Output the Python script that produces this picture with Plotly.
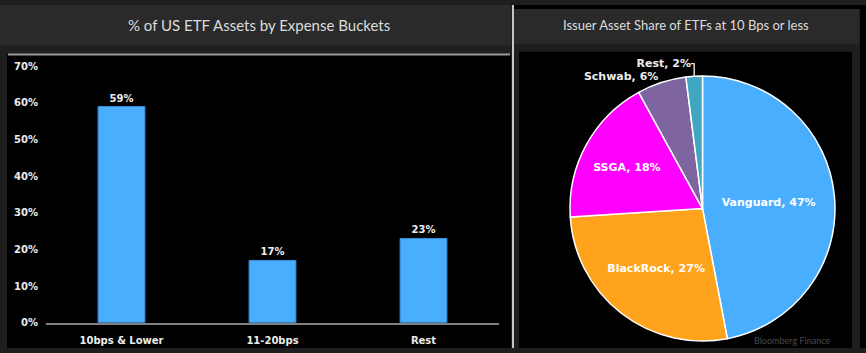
import plotly.graph_objects as go

# ---------------- data ----------------
categories = ["10bps & Lower", "11-20bps", "Rest"]
bucket_pct = [59, 17, 23]
y_tick_vals = [0, 10, 20, 30, 40, 50, 60, 70]
y_tick_text = ["0%", "10%", "20%", "30%", "40%", "50%", "60%", "70%"]

issuers = ["Vanguard", "BlackRock", "SSGA", "Schwab", "Rest"]
issuer_share = [47, 27, 18, 6, 2]
issuer_colors = ["#4aaeff", "#ffa31c", "#ff00ff", "#7e65a0", "#40a6c2"]
issuer_textpos = ["inside", "inside", "inside", "outside", "outside"]

left_title = "% of US ETF Assets by Expense Buckets"
right_title = "Issuer Asset Share of ETFs at 10 Bps or less"

# ---------------- geometry helpers ----------------
W, H = 866, 353


def px(x):
    return x / W


def py(y):
    return 1 - y / H


BOLD = "DejaVu Sans"
TXT = "#ececec"

fig = go.Figure()

fig.add_trace(go.Bar(
    x=categories, y=bucket_pct,
    marker=dict(color="#4aaeff", line=dict(color="#3a8ddb", width=1)),
    texttemplate="%{y}%", textposition="outside",
    textfont=dict(family=BOLD, size=10, color=TXT, weight="bold"),
    cliponaxis=False, showlegend=False, hoverinfo="skip",
))

fig.add_trace(go.Pie(
    labels=issuers, values=issuer_share, sort=False, direction="clockwise",
    rotation=0,
    marker=dict(colors=issuer_colors, line=dict(color="#ffffff", width=1.5)),
    texttemplate="%{label}, %{percent:.0%}",
    textposition=issuer_textpos,
    insidetextorientation="horizontal",
    insidetextfont=dict(family=BOLD, size=11, color="#ffffff", weight="bold"),
    outsidetextfont=dict(family=BOLD, size=11, color=TXT, weight="bold"),
    domain=dict(x=[px(570), px(835)], y=[py(346), py(73)]),
    showlegend=False, hoverinfo="skip",
))


def rect(x0, x1, y0, y1, color):
    return dict(type="rect", xref="paper", yref="paper",
                x0=px(x0), x1=px(x1), y0=py(y1), y1=py(y0),
                fillcolor=color, line_width=0, layer="below")


shapes = [
    rect(0, 511, 0, 42, "#2a2a2a"),          # left title bar
    rect(7, 511, 51, 353, "#000000"),        # left black plot area
    dict(type="line", xref="paper", yref="paper",
         x0=px(8), x1=px(510), y0=py(51), y1=py(51),
         line=dict(color="#9a9a9a", width=2), layer="below"),
    dict(type="line", xref="paper", yref="paper",
         x0=px(513), x1=px(513), y0=0, y1=1,
         line=dict(color="#ffffff", width=1.5), layer="below"),
    rect(514, 866, 0, 4, "#000000"),         # right top black strip
    rect(514, 859, 4, 40, "#2a2a2a"),        # right title bar
    rect(519, 852, 48, 353, "#000000"),      # right black area
    rect(860, 866, 0, 353, "#000000"),       # far right strip
]

annotations = [
    dict(text=left_title, x=px(259), y=py(21), xref="paper", yref="paper",
         showarrow=False, xanchor="center", yanchor="middle",
         font=dict(family="Lato", size=15, color="#dcdcdc")),
    dict(text=right_title, x=px(686), y=py(21), xref="paper", yref="paper",
         showarrow=False, xanchor="center", yanchor="middle",
         font=dict(family="Lato", size=13, color="#dcdcdc")),
    dict(text="Bloomberg Finance", x=px(752), y=0, xref="paper", yref="paper",
         showarrow=False, xanchor="left", yanchor="bottom",
         font=dict(family="Lato", size=9, color="#4a4a4a")),
]

fig.update_layout(
    width=W, height=H,
    margin=dict(l=0, r=0, t=0, b=0),
    paper_bgcolor="#1e1e1e",
    plot_bgcolor="rgba(0,0,0,0)",
    bargap=0.69,
    shapes=shapes,
    annotations=annotations,
    xaxis=dict(domain=[px(46), px(499)], showgrid=False, zeroline=False,
               showline=True, linecolor="#808080", linewidth=2,
               ticks="", ticklabelstandoff=7,
               tickfont=dict(family=BOLD, size=10, color=TXT, weight="bold"),
               fixedrange=True),
    yaxis=dict(domain=[py(327), py(63)], range=[0, 70], showgrid=False,
               zeroline=False, showline=False, tickvals=y_tick_vals,
               ticktext=y_tick_text, ticks="", ticklabelstandoff=7,
               tickfont=dict(family=BOLD, size=10, color=TXT, weight="bold"),
               fixedrange=True),
)

fig.write_html("out.html")
